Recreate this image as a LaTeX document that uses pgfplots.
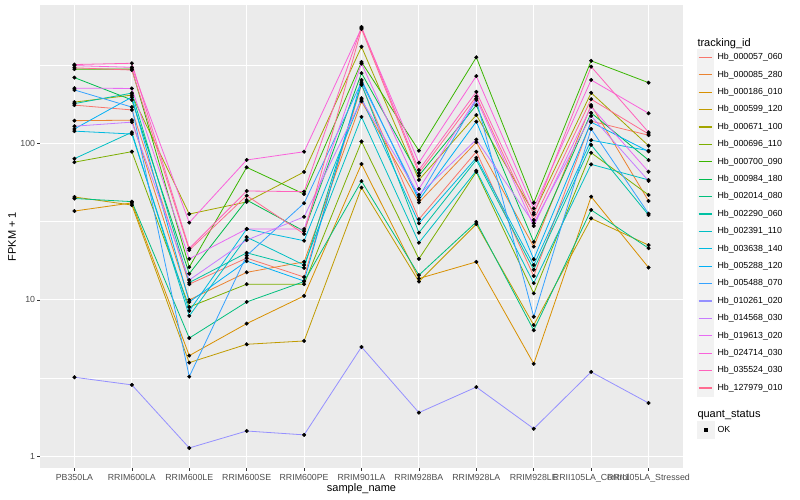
\documentclass[border=0pt]{standalone}
\usepackage{pgfplots}
\usepackage{pgfplotstable}
\pgfplotsset{compat=1.18}
\usepackage{fontspec}
\setmainfont{Liberation Sans}

\definecolor{c1}{HTML}{F8766D}
\definecolor{c2}{HTML}{EA8331}
\definecolor{c3}{HTML}{D89000}
\definecolor{c4}{HTML}{C09B00}
\definecolor{c5}{HTML}{A3A500}
\definecolor{c6}{HTML}{7CAE00}
\definecolor{c7}{HTML}{39B600}
\definecolor{c8}{HTML}{00BB4E}
\definecolor{c9}{HTML}{00BF7D}
\definecolor{c10}{HTML}{00C1A3}
\definecolor{c11}{HTML}{00BFC4}
\definecolor{c12}{HTML}{00BAE0}
\definecolor{c13}{HTML}{00B0F6}
\definecolor{c14}{HTML}{35A2FF}
\definecolor{c15}{HTML}{9590FF}
\definecolor{c16}{HTML}{C77CFF}
\definecolor{c17}{HTML}{E76BF3}
\definecolor{c18}{HTML}{FA62DB}
\definecolor{c19}{HTML}{FF62BC}
\definecolor{c20}{HTML}{FF6C91}
\definecolor{panelgrey}{HTML}{EBEBEB}
\definecolor{keygrey}{HTML}{F2F2F2}
\definecolor{grey20}{HTML}{333333}
\definecolor{grey30}{HTML}{4D4D4D}

% rows: sample (0..10); columns: series s1..s20
\pgfplotstableread{
idx s1 s2 s3 s4 s5 s6 s7 s8 s9 s10 s11 s12 s13 s14 s15 s16 s17 s18 s19 s20
0 176 140 37 45.5 184 76 299 264 44.5 180 80 120 124 220 3.2 129 226 315 320 305
1 164 141 41.7 40.4 204 88.7 299 190 42.5 210 118 115 198 171 2.86 137 225 307 326 295
2 12.6 10.0 4.4 3.97 35.4 9.0 16.2 14.7 5.7 12.9 7.9 8.5 9.7 3.23 1.13 13.4 18.3 31.2 21.3 20.8
3 18.5 15.0 7.05 5.2 42.3 12.6 70.4 43.5 9.7 20.0 25.2 28.4 17.7 19.2 1.45 24.1 28.4 78.5 49.7 46.4
4 14.0 17.5 10.6 5.46 65.8 12.6 47.5 27.5 13.1 16.0 16.7 23.9 13.2 41.5 1.37 34.0 28.4 88.6 49.2 26.4
5 237 186 74 52.2 416 103 332 282 57.5 240 148 195 255 247 5.0 190 325 548 556 540
6 32.8 42.0 13.7 13.1 58.5 18.3 90 62.3 14.4 26.9 23.2 30.9 43.5 45.3 1.9 47 51.2 75.4 67.7 64.7
7 88.6 102 17.5 30.5 152 65.8 356 176 31.5 78.5 67 81 138 190 2.77 106 194 270 214 200
8 14.2 21.9 3.9 6.9 36 11.0 41.8 23.5 6.4 15.6 12.8 16.7 18.2 7.8 1.5 30.9 29.7 38.5 35.2 32.4
9 139 176 45.7 33.2 211 87.3 338 157 37.6 98 73.6 105 137 124 3.46 150 172 255 310 192
10 113 42.9 16.1 22.4 96.8 46.9 245 78.3 21.4 34.9 58.5 90 89 35.6 2.19 57.7 66 156 118 115
}\data

\begin{document}
\begin{tikzpicture}
\path[use as bounding box, fill=white] (0,0) rectangle (800bp,500bp);
\begin{axis}[
  at={(40bp,32bp)}, anchor=south west,
  width=643bp, height=463bp, scale only axis,
  xmin=-0.6, xmax=10.6,
  ymode=log, ymin=0.841, ymax=769,
  xtick={0,1,2,3,4,5,6,7,8,9,10},
  xticklabels={PB350LA,RRIM600LA,RRIM600LE,RRIM600SE,RRIM600PE,RRIM901LA,RRIM928BA,RRIM928LA,RRIM928LE,RRII105LA\_Control,RRII105LA\_Stressed},
  ytick={1,10,100}, yticklabels={1,10,100},
  minor ytick={3.1623,31.623,316.23}, minor xtick={},
  grid=both,
  major grid style={white, line width=1.07bp},
  minor grid style={white, line width=0.53bp},
  axis background/.style={fill=panelgrey},
  axis line style={draw=none},
  tick align=outside, tick pos=left,
  major tick length=2.75bp, minor tick length=0pt,
  tick style={color=grey20, line width=0.53bp},
  ticklabel style={font=\fontsize{8.8bp}{10bp}\selectfont, text=grey30},
  xticklabel style={inner sep=1.5bp, yshift=-1.5bp},
  yticklabel style={inner sep=2bp},
  xlabel={sample\_name}, ylabel={FPKM + 1},
  label style={font=\fontsize{11bp}{13bp}\selectfont, text=black},
  xlabel style={at={(axis description cs:0.5,-0.0452)}, anchor=center},
  ylabel style={at={(axis description cs:-0.0435,0.5)}, anchor=center},
  legend image code/.code={\fill[keygrey] (0bp,-8.3bp) rectangle (16.6bp,8.3bp); \draw[#1, line width=1.2bp] (1.5bp,0bp) -- (15.1bp,0bp);},
  legend style={at={(axis description cs:1.02131,0.93650)}, anchor=north west,
    draw=none, fill=none, inner sep=0pt, outer sep=0pt,
    font=\fontsize{8.8bp}{10bp}\selectfont,
    row sep=0bp, column sep=3.4bp,
    nodes={inner sep=0pt, text depth=}},
  legend cell align=left,
]
\addlegendimage{empty legend}
\addlegendentry{\hspace*{-20bp}\fontsize{11bp}{13bp}\selectfont\rule[-2.3bp]{0pt}{14.3bp}tracking\_id}
\addplot[c1, line width=0.8bp] table[x=idx,y=s1]{\data}; \addlegendentry{Hb\_000057\_060}
\addplot[c2, line width=0.8bp] table[x=idx,y=s2]{\data}; \addlegendentry{Hb\_000085\_280}
\addplot[c3, line width=0.8bp] table[x=idx,y=s3]{\data}; \addlegendentry{Hb\_000186\_010}
\addplot[c4, line width=0.8bp] table[x=idx,y=s4]{\data}; \addlegendentry{Hb\_000599\_120}
\addplot[c5, line width=0.8bp] table[x=idx,y=s5]{\data}; \addlegendentry{Hb\_000671\_100}
\addplot[c6, line width=0.8bp] table[x=idx,y=s6]{\data}; \addlegendentry{Hb\_000696\_110}
\addplot[c7, line width=0.8bp] table[x=idx,y=s7]{\data}; \addlegendentry{Hb\_000700\_090}
\addplot[c8, line width=0.8bp] table[x=idx,y=s8]{\data}; \addlegendentry{Hb\_000984\_180}
\addplot[c9, line width=0.8bp] table[x=idx,y=s9]{\data}; \addlegendentry{Hb\_002014\_080}
\addplot[c10, line width=0.8bp] table[x=idx,y=s10]{\data}; \addlegendentry{Hb\_002290\_060}
\addplot[c11, line width=0.8bp] table[x=idx,y=s11]{\data}; \addlegendentry{Hb\_002391\_110}
\addplot[c12, line width=0.8bp] table[x=idx,y=s12]{\data}; \addlegendentry{Hb\_003638\_140}
\addplot[c13, line width=0.8bp] table[x=idx,y=s13]{\data}; \addlegendentry{Hb\_005288\_120}
\addplot[c14, line width=0.8bp] table[x=idx,y=s14]{\data}; \addlegendentry{Hb\_005488\_070}
\addplot[c15, line width=0.8bp] table[x=idx,y=s15]{\data}; \addlegendentry{Hb\_010261\_020}
\addplot[c16, line width=0.8bp] table[x=idx,y=s16]{\data}; \addlegendentry{Hb\_014568\_030}
\addplot[c17, line width=0.8bp] table[x=idx,y=s17]{\data}; \addlegendentry{Hb\_019613\_020}
\addplot[c18, line width=0.8bp] table[x=idx,y=s18]{\data}; \addlegendentry{Hb\_024714\_030}
\addplot[c19, line width=0.8bp] table[x=idx,y=s19]{\data}; \addlegendentry{Hb\_035524\_030}
\addplot[c20, line width=0.8bp] table[x=idx,y=s20]{\data}; \addlegendentry{Hb\_127979\_010}
\pgfplotsinvokeforeach{1,...,20}{
  \addplot[only marks, mark=*, mark size=1.8bp, black, forget plot] table[x=idx,y=s#1]{\data};
}
\addlegendimage{empty legend}
\addlegendentry{\hspace*{-20bp}\fontsize{11bp}{13bp}\selectfont\rule[-3.9bp]{0pt}{24.2bp}quant\_status}
\addlegendimage{legend image code/.code={\fill[keygrey] (0bp,-8.3bp) rectangle (16.6bp,8.3bp); \fill[black] (6.8bp,-1.6bp) rectangle (10.0bp,1.6bp);}}
\addlegendentry{OK}
\end{axis}
\end{tikzpicture}
\end{document}
